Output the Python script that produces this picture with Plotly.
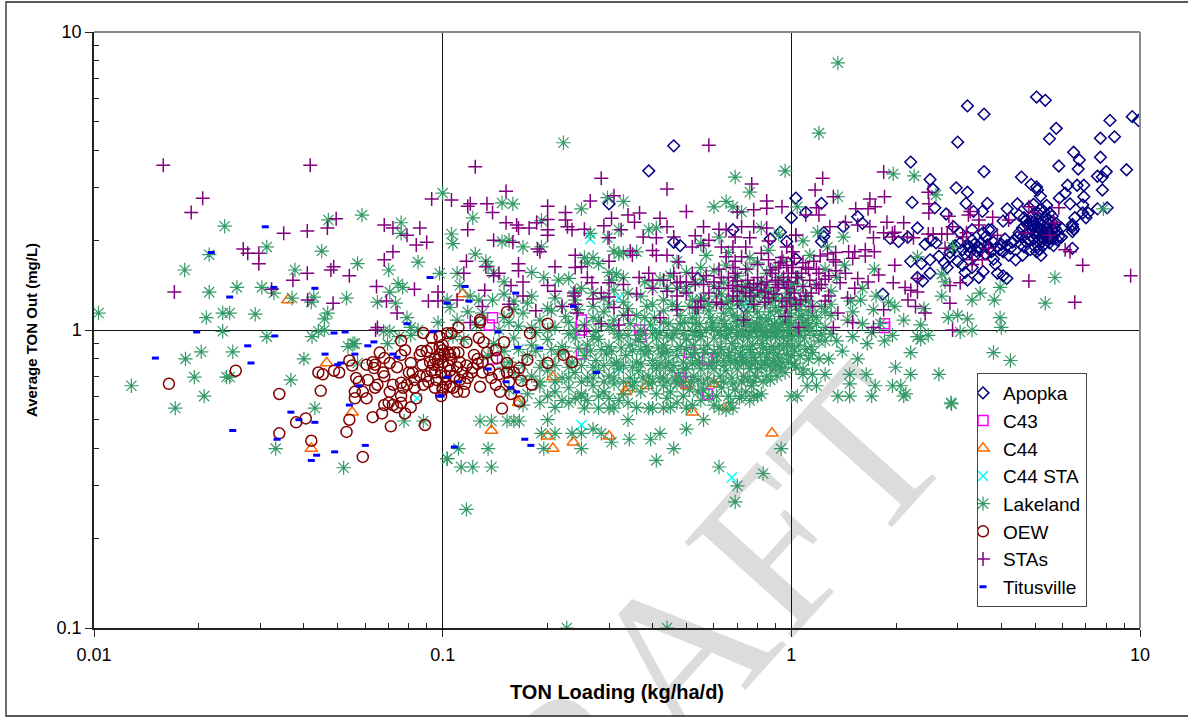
import plotly.graph_objects as go

apopka = [(9.5,5.2),(9.9,5.05),(8.2,5.05),(8.45,4.45),(7.7,4.4),(5.75,4.75),(5.5,4.38),(5.05,6.05),(5.35,5.9),(3.2,5.65),(3.57,5.3),(3,4.27),
(6.45,3.95),(7.7,3.8),(6.7,3.72),(5.85,3.55),(6.65,3.47),(9.15,3.45),(8,3.4),(2.2,3.66),(3.57,3.4),(4.57,3.26),(7.55,3.28),(7.8,3.26),(6.2,3.06),
(6.6,3.06),(6.9,3.06),(7.8,2.95),(4.87,3.08),(5.05,3.02),(2.5,3.2),(2.97,3),(3.2,2.9),(2.55,2.97),(2.22,2.68),(3.17,2.66),(3.65,2.66),(1.03,2.77),
(1.22,2.66),(1.1,2.48),(2.58,2.57),(2.78,2.45),(3.33,2.5),(3.53,2.5),(4.16,2.55),(4.45,2.65),(5.18,2.81),(5.08,2.95),(5.87,2.77),(6.1,2.88),(6.9,2.8),
(6.3,2.65),(6.85,2.63),(7.55,2.55),(8.05,2.57),(6.85,2.47),(7.1,2.47),(7,2.38),(6.5,2.38),(1.55,2.4),(1.41,2.22),(2.3,2.2),(2.92,2.22),(3.3,2.17),(3.68,2.17),
(4.05,2.32),(4.25,2.38),(4.5,2.43),(4.8,2.58),(4.95,2.64),(5.4,2.62),(5.5,2.47),(5.2,2.55),(4.9,2.41),(5.05,2.36),(5.35,2.38),(5.6,2.41),(4.85,2.32),
(4.65,2.38),(4.75,2.26),(4.95,2.24),(5.2,2.28),(5.45,2.28),(5.75,2.28),(6.4,2.26),(6.4,2.22),(6.45,2.18),(6.4,2.14),(1.24,2.12),(1.24,2.06),(1.92,2.03),
(2.03,1.98),(2.16,2.05),(2.52,2),(2.6,1.96),(2.42,1.94),(3.05,2.12),(3.3,2),(3.55,2.12),(3.75,2.17),(3.6,2.05),(4,1.94),(4.3,1.97),(4.45,2.05),(4.55,1.94),
(4.65,1.9),(4.85,1.86),(4.95,2.02),(5.1,1.98),(5.2,2.05),(5.35,2.1),(5.55,2.03),(5.7,2.12),(5.6,2.03),(6.4,1.88),(5.15,1.86),(5.2,1.78),(5.05,1.83),
(2.85,1.82),(3.1,1.86),(3.25,1.82),(3.5,1.87),(3.75,1.83),(3.95,1.86),(4.05,1.83),(4.6,1.78),(4.2,1.78),(2.65,1.77),(2.5,1.72),(2.2,1.7),(1.03,1.73),
(2.85,1.76),(3,1.7),(3.1,1.65),(2.36,1.67),(2.5,1.55),(2.3,1.5),(3.15,1.56),(3.2,1.47),(3.45,1.5),(3.55,1.57),(3.85,1.66),(3.9,1.55),(4.05,1.52),(4.15,1.49),
(2.38,1.46),(1.83,1.32),(3.35,1.77),(3.3,1.62),(4.4,1.72),(3.8,1.73),(2.75,1.68),(2.8,1.62),(4.75,2.12),(4.9,2.17),(5.05,2.13),(5.25,2.17),(5.45,2.15),
(5.6,2.18),(5.8,2.14),(5.95,2.2),(4.8,2.02),(5,1.9),(5.3,1.93),(5.5,1.96),(5.65,1.92),(5.8,2),(5.95,2.05),(3.35,1.94),(3.5,1.96),(3.65,1.93),(3.8,1.97),
(2.95,1.92),(3.05,1.96),(3.2,1.93),(4.1,2.02),(4.25,1.88),(5.1,2.1),(5.3,2.02),(5.55,2.08),(0.39,3.42),(0.46,4.15),(0.3,2.65),(0.46,1.97),(0.48,1.92),(0.68,2.17),
(0.87,2.02),(0.93,2.13),(0.97,1.98),(1,2.38),(0.54,1.49),(0.73,1.2),(0.98,1.42),(0.8,1.35),(1.6,2.28),(1.22,1.98),
(3.15,1.8),(3.4,1.84),(3.6,1.8),(3.25,1.9),(3.45,1.9),(3.7,1.88),(3.9,1.9),(4.15,1.92),(2.9,1.88),(4.35,2.0),(4.5,2.12),(4.6,2.2),(4.7,2.32),(4.85,2.25),(5.1,2.22),(5.3,2.12),(5.4,2.2),(5.5,2.12),(5.15,2.18),(5.7,2.2),(5.25,2.32),(5.45,2.36),(4.95,2.3),(5.1,2.46),(5.3,2.5),(5.6,2.3),(5.85,2.06),(5.25,1.98),(5.45,2.03),(5.05,2.06),(4.7,1.98),(4.6,2.05)]

c43 = [(0.139,1.1),(0.136,1.04),(0.25,1.08),(0.25,1.0),(0.367,1.0),(1.85,1.02),(1.85,1.05),(0.48,0.69),(0.5,0.67),(0.575,0.61),(0.139,0.8),(0.25,0.83),(0.51,0.84),(0.575,0.8),(0.37,0.95)]

c44 = [(0.036,1.26),(0.0465,0.775),(0.055,0.53),(0.042,0.4),(0.114,1.32),(0.207,0.695),(0.165,0.57),(0.138,0.46),(0.2,0.44),(0.207,0.4),(0.237,0.42),(0.3,0.44),
(0.52,0.53),(0.88,0.45),(0.34,0.64),(0.385,0.65),(0.5,0.65),(0.6,0.66),(0.655,0.55),(0.335,0.62)]

c44_sta = [(0.265,2.02),(0.32,1.28),(0.25,0.48),(0.32,0.745),(0.675,0.32),(0.41,1.0),(0.0845,0.59),(0.745,1.23),(0.72,0.8)]

lakeland = [(0.0103,1.14),(0.0128,0.65),(0.0182,1.59),(0.0237,2.23),(0.0214,1.79),(0.0214,1.34),(0.0257,1.39),(0.0303,1.39),(0.0313,1.9),(0.0328,1.33),(0.021,1.1),(0.0234,1.14),(0.0245,1.14),
(0.029,1.13),(0.0234,0.99),(0.0313,0.95),(0.037,1.28),(0.0377,1.59),(0.0427,1.29),(0.042,1.24),(0.045,1.84),(0.047,2.34),(0.0587,2.43),(0.057,1.67),(0.053,1.28),(0.0468,1.14),(0.0458,1.09),
(0.044,0.99),(0.0458,1.0),(0.0422,0.95),(0.07,1.59),(0.085,1.69),(0.098,1.55),(0.1,2.88),(0.076,2.29),(0.076,2.11),(0.0745,1.43),(0.0768,1.39),(0.0705,1.34),(0.065,1.24),(0.0733,1.23),
(0.079,1.1),(0.081,1.02),(0.097,1.06),(0.103,1.26),(0.0677,0.99),(0.0705,0.99),(0.075,0.95),(0.081,0.96),(0.085,1.0),(0.0553,0.9),(0.0535,0.88),(0.0695,0.9),(0.0203,0.845),(0.025,0.845),
(0.0183,0.8),(0.04,0.8),(0.0194,0.695),(0.024,0.695),(0.0245,0.695),(0.0367,0.68),(0.0207,0.6),(0.0171,0.547),(0.043,0.547),(0.0332,0.4),(0.052,0.345),(0.0775,0.495),(0.088,0.495),
(0.056,0.9),(0.057,0.775),(0.103,0.37),(0.128,0.495),(0.138,0.495),(0.153,0.495),(0.16,0.495),(0.166,0.495),(0.2,0.5),(0.34,0.5),(0.56,0.5),(0.5,0.465),(0.27,0.465),(0.192,0.45),(0.21,0.45),
(0.235,0.45),(0.25,0.45),(0.285,0.45),(0.42,0.45),(0.395,0.43),(0.343,0.43),(0.305,0.42),(0.111,0.4),(0.135,0.4),(0.195,0.4),(0.25,0.4),(0.46,0.4),(0.935,0.4),(0.103,0.37),(0.113,0.347),
(0.122,0.347),(0.138,0.347),(0.41,0.365),(0.62,0.347),(0.83,0.33),(0.7,0.3),(0.69,0.265),(0.117,0.25),(0.227,0.1),(0.44,0.1),(0.255,0.547),(0.28,0.547),(0.3,0.547),(0.31,0.547),(0.39,0.547),
(0.4,0.547),(0.43,0.547),(0.5,0.547),(0.62,0.547),(0.65,0.54),(0.68,0.547),(0.72,0.6),(0.78,0.6),(0.8,0.6),(1.04,0.6),(0.93,0.75),(0.222,4.25),(0.69,3.26),(0.96,3.42),(0.76,2.9),(0.297,2.78),
(0.33,2.7),(0.148,2.67),(0.159,2.65),(0.122,2.38),(0.25,2.55),(0.192,2.33),(0.6,2.59),(0.65,2.7),(0.68,2.59),(0.72,2.49),(0.106,2.1),(0.107,1.95),(0.148,1.98),(0.155,2),(0.17,1.9),(0.192,1.9),
(0.124,1.8),(0.133,1.7),(0.135,1.64),(0.32,2.17),(0.265,2.11),(0.297,2.04),(0.36,1.83),(0.31,1.84),(0.32,1.8),(0.33,1.81),(0.39,2.17),(0.41,2.2),(0.255,1.75),(0.27,1.75),(0.26,1.68),(0.28,1.67),
(0.11,1.55),(0.112,1.41),(0.14,1.55),(0.18,1.56),(0.195,1.5),(0.215,1.47),(0.23,1.49),(0.3,1.56),(0.315,1.54),(0.33,1.5),(0.305,1.47),(0.25,1.38),(0.27,1.33),(0.34,1.33),(0.31,1.36),(0.127,1.26),
(0.139,1.26),(0.16,1.25),(0.175,1.23),(0.16,1.17),(0.105,1.19),(0.12,1.3),(1.36,7.88),(1.2,4.58),(1.96,3.34),(2.25,3.29),(2.6,2.84),(1.36,2.8),(1.04,2.59),(7.85,2.55),(2.9,1.9),(2.3,1.76),(1.19,2.13),
(1.08,1.99),(1.41,2.05),(1.13,1.78),(1.27,1.9),(3.97,1.39),(5.7,1.5),(5.35,1.23),(2.7,1.54),(2.76,1.45),(2.7,1.3),(3.48,1.33),(3.3,1.26),(3.82,1.26),(2.4,1.18),(2.82,1.1),(3,1.12),(3.2,1.09),(3.97,1.1),
(4,1.02),(2.35,1.04),(2.1,1.08),(1.98,1.2),(1.9,1.24),(1.73,1.6),(1.58,1.26),(1.72,1.17),(3.05,0.985),(3.3,1),(2.47,0.96),(2.3,0.95),(3.8,0.84),(4.25,0.79),(2.88,0.565),(2.1,0.6),(2.13,0.61),(2.87,0.57),
(1.99,0.75),(2.35,0.93),(2.2,0.84),(1.36,0.6),(1.47,0.6),(1.7,0.6),(1.11,0.65),(1.18,0.65),(1.47,0.66),(1.74,0.65),(1.95,0.65),(2.06,0.65),(1.08,0.71),(1.15,0.71),(1.25,0.71),(1.47,0.71),(1.64,0.71),
(2.2,0.71),(2.65,0.71),(1.0,0.6),(1.03,0.75),(1.28,0.8),(1.4,0.85),(1.55,0.8),(1.65,0.9),(1.85,0.92),(1.95,0.96),(1.5,0.95),(1.7,0.98),(1.35,0.92),(1.8,1.05),(1.6,1.05),(1.45,1.08),(1.25,1.02),(1.3,1.12),
(1.5,1.15),(1.15,1.2),(1.1,1.3),(1.3,1.35),(1.18,1.42),(1.05,1.5),(1.35,1.5),(1.6,1.38),(1.25,1.6),(1.42,1.65),(1.48,1.25),(1.75,1.3),
(0.15,1.32),(0.18,1.3),(0.21,1.28),(0.24,1.26),(0.29,1.28),(0.33,1.24),(0.37,1.3),(0.4,1.38),(0.43,1.26),(0.47,1.38),(0.5,1.34),(0.53,1.44),(0.56,1.28),(0.6,1.4),(0.63,1.32),(0.66,1.25),(0.7,1.36),(0.74,1.42),(0.78,1.29),(0.82,1.44),(0.86,1.35),(0.9,1.27),(0.94,1.46),(0.98,1.33),
(0.13,1.14),(0.15,1.1),(0.17,1.14),(0.19,1.08),(0.205,1.16),(0.225,1.11),(0.245,1.17),(0.27,1.1),(0.29,1.15),(0.31,1.08),(0.34,1.18),(0.36,1.12),(0.385,1.2),(0.405,1.1),(0.43,1.16),(0.455,1.22),(0.48,1.12),(0.51,1.2),(0.535,1.14),(0.56,1.2),(0.585,1.1),(0.61,1.22),(0.64,1.14),(0.67,1.18),(0.7,1.1),(0.72,1.22),(0.75,1.15),(0.78,1.2),(0.81,1.1),(0.84,1.22),(0.87,1.15),(0.9,1.19),(0.93,1.11),(0.96,1.2),(0.99,1.14),(1.03,1.23),(1.07,1.12),(1.12,1.16),(1.18,1.1),(1.22,1.2),
(0.125,1.04),(0.145,1.0),(0.165,1.03),(0.185,0.98),(0.21,1.02),(0.23,0.97),(0.255,1.04),(0.275,0.99),(0.3,1.03),(0.32,0.97),(0.345,1.05),(0.37,1.0),(0.395,1.04),(0.42,0.98),(0.445,1.05),(0.47,1.0),(0.495,1.06),(0.52,0.99),(0.545,1.05),(0.57,1.0),(0.595,1.06),(0.62,0.99),(0.645,1.05),(0.67,1.0),(0.695,1.07),(0.72,1.0),(0.745,1.06),(0.77,0.99),(0.795,1.05),(0.82,1.0),(0.845,1.07),(0.87,0.99),(0.895,1.05),(0.92,1.0),(0.945,1.06),(0.97,0.99),(1.0,1.05),(1.04,1.0),(1.08,1.06),(1.13,0.99),(1.18,1.05),(1.22,0.97),
(0.115,0.93),(0.14,0.9),(0.16,0.94),(0.18,0.89),(0.2,0.93),(0.22,0.88),(0.24,0.94),(0.26,0.89),(0.28,0.93),(0.3,0.88),(0.32,0.94),(0.345,0.89),(0.365,0.93),(0.385,0.88),(0.41,0.94),(0.43,0.89),(0.455,0.94),(0.48,0.88),(0.5,0.93),(0.525,0.89),(0.55,0.95),(0.575,0.89),(0.6,0.94),(0.625,0.88),(0.65,0.94),(0.675,0.9),(0.7,0.95),(0.725,0.88),(0.75,0.94),(0.775,0.89),(0.8,0.95),(0.825,0.9),(0.85,0.94),(0.875,0.88),(0.9,0.95),(0.925,0.89),(0.95,0.94),(0.975,0.9),(1.01,0.95),(1.05,0.89),(1.09,0.94),(1.14,0.88),(1.2,0.92),
(0.135,0.82),(0.155,0.78),(0.175,0.82),(0.195,0.79),(0.215,0.83),(0.235,0.78),(0.255,0.82),(0.275,0.79),(0.295,0.83),(0.315,0.78),(0.335,0.82),(0.36,0.78),(0.38,0.83),(0.4,0.79),(0.425,0.83),(0.445,0.78),(0.47,0.82),(0.49,0.78),(0.515,0.83),(0.54,0.79),(0.565,0.84),(0.59,0.78),(0.615,0.83),(0.64,0.79),(0.665,0.84),(0.69,0.79),(0.715,0.83),(0.74,0.78),(0.765,0.84),(0.79,0.79),(0.815,0.83),(0.84,0.78),(0.865,0.84),(0.89,0.79),(0.915,0.83),(0.94,0.78),(0.97,0.83),(1.0,0.88),(1.06,0.82),(1.12,0.8),
(0.16,0.72),(0.18,0.7),(0.2,0.73),(0.22,0.69),(0.24,0.72),(0.26,0.69),(0.28,0.73),(0.3,0.7),(0.32,0.74),(0.345,0.69),(0.365,0.73),(0.39,0.7),(0.41,0.74),(0.43,0.69),(0.455,0.73),(0.475,0.7),(0.5,0.74),(0.525,0.7),(0.55,0.74),(0.575,0.69),(0.6,0.74),(0.625,0.7),(0.65,0.73),(0.675,0.69),(0.7,0.74),(0.73,0.7),(0.76,0.74),(0.79,0.7),(0.82,0.75),(0.85,0.7),(0.88,0.73),(0.91,0.7),(0.96,0.72),
(0.155,0.63),(0.175,0.61),(0.19,0.65),(0.21,0.62),(0.23,0.64),(0.25,0.61),(0.27,0.65),(0.29,0.62),(0.31,0.66),(0.33,0.61),(0.35,0.65),(0.37,0.62),(0.39,0.66),(0.41,0.61),(0.43,0.65),(0.45,0.62),(0.47,0.66),(0.54,0.62),(0.58,0.6),(0.63,0.64),(0.66,0.6),(0.69,0.63),(0.74,0.62),(0.77,0.65),(0.82,0.61),
(0.17,0.56),(0.19,0.57),(0.21,0.55),(0.23,0.57),(0.25,0.6),(0.34,0.57),(0.36,0.55),(0.45,0.55),(0.47,0.57),(0.52,0.56),(0.55,0.58),(0.6,0.56),(0.67,0.57),
(0.107,0.95),(0.11,1.08),(0.118,1.15),(0.42,1.48),(0.45,1.52),(0.5,1.56),(0.55,1.62),(0.6,1.58),(0.65,1.65),(0.7,1.52),(0.75,1.6),(0.8,1.68),(0.85,1.55),(0.9,1.62),(0.95,1.7),(0.47,1.7),(0.57,1.78),(0.66,1.82),(0.76,1.75),(0.86,1.85),(0.55,1.95),(0.62,2.05),(0.92,2.1),(0.82,2.2),(0.38,1.45),(0.2,1.18),(0.24,1.35),(0.15,1.45),
(0.52,1.1),(0.58,1.16),(0.63,1.08),(0.68,1.12),(0.74,1.08),(0.8,1.15),(0.86,1.09),(0.92,1.16),(0.98,1.08),(1.05,1.17),(1.11,1.08),(0.55,1.27),(0.61,1.3),(0.68,1.28),(0.73,1.3),(0.81,1.33),(0.88,1.25),(0.96,1.28),(1.02,1.36),(1.07,1.24),(0.46,0.97),(0.53,0.96),(0.6,1.0),(0.66,0.97),(0.73,0.96),(0.79,1.02),(0.85,0.96),(0.91,0.97),(0.98,0.96),(1.06,0.96),(1.12,1.03),
(0.44,0.85),(0.5,0.86),(0.56,0.86),(0.63,0.86),(0.69,0.87),(0.76,0.86),(0.83,0.87),(0.89,0.86),(0.95,0.87),(1.02,0.85),(1.1,0.86),(0.46,0.76),(0.52,0.77),(0.58,0.76),(0.64,0.76),(0.7,0.77),(0.77,0.77),(0.84,0.77),(0.9,0.76),(0.98,0.78),
(0.2,0.6),(0.22,0.58),(0.24,0.59),(0.26,0.58),(0.28,0.6),(0.3,0.59),(0.32,0.58),(0.44,0.59),(0.49,0.6),(0.51,0.63),(0.56,0.63),(0.61,0.6),(0.71,0.59),(0.76,0.58),
(0.17,0.68),(0.19,0.67),(0.21,0.67),(0.23,0.69),(0.25,0.67),(0.27,0.69),(0.29,0.67),(0.31,0.69),(0.33,0.67),(0.355,0.67),(0.375,0.69),(0.4,0.67),(0.42,0.69),(0.44,0.67),(0.465,0.68),(0.49,0.67),(0.515,0.67),(0.54,0.68),(0.56,0.66),(0.6,0.67),(0.64,0.67),(0.68,0.66),(0.72,0.67),(0.75,0.68),(0.78,0.67),(0.83,0.67),(0.87,0.68),
(0.15,0.75),(0.17,0.76),(0.19,0.75),(0.21,0.76),(0.23,0.75),(0.25,0.76),(0.27,0.75),(0.29,0.76),(0.31,0.77),(0.33,0.76),(0.35,0.75),(0.37,0.77),(0.4,0.76),(0.42,0.77),(0.435,0.75),(0.49,0.74),(0.545,0.78),(0.61,0.78),(0.67,0.78),(0.73,0.78),(0.8,0.74),(0.87,0.76),(0.94,0.74),(1.02,0.77),(1.08,0.74),
(0.15,0.85),(0.165,0.86),(0.185,0.85),(0.205,0.86),(0.225,0.85),(0.245,0.87),(0.265,0.85),(0.285,0.86),(0.305,0.85),(0.325,0.87),(0.35,0.85),(0.37,0.86),(0.39,0.85),(0.415,0.87),(0.435,0.84),(0.47,0.86),(0.53,0.84),(0.6,0.84),(0.66,0.82),(0.72,0.81),(0.78,0.81),(0.85,0.81),(0.92,0.8),(1.0,0.82),(1.15,0.84),(1.2,0.8),
(0.2,1.0),(0.24,1.0),(0.27,0.95),(0.31,1.0),(0.34,0.96),(0.37,0.96),(0.4,0.97),(0.44,0.96),(0.49,0.97),(0.55,0.98),(0.63,0.96),(0.7,0.98),(0.76,0.98),(0.83,0.98),(0.9,0.98),(1.03,1.02),(1.1,1.02),(1.16,0.96),(1.25,0.92),(1.3,0.97),
(0.43,1.06),(0.48,1.05),(0.53,1.05),(0.59,1.02),(0.65,1.02),(0.7,1.03),(0.76,1.04),(0.82,1.04),(0.88,1.03),(0.93,1.04),(0.99,1.02),(1.05,1.1),(1.15,1.12),(1.25,1.15),(1.3,1.22),(0.47,1.2),(0.52,1.26),(0.58,1.22),(0.65,1.23),(0.71,1.25),(0.77,1.25),(0.84,1.29),(0.9,1.32),(0.99,1.24),(1.12,1.25),
(0.5,1.4),(0.56,1.48),(0.64,1.44),(0.69,1.46),(0.76,1.38),(0.85,1.42),(0.92,1.5),(1.0,1.42),(1.08,1.4),(0.44,1.38),(0.3,1.22),(0.27,1.2),(0.22,1.2),(0.4,1.22),(0.38,1.1),(0.33,1.12),(0.28,1.07),(0.23,1.06),(0.18,1.02),(0.155,1.06)]

oew = [(0.0255,0.73),(0.0164,0.66),(0.034,0.61),(0.034,0.45),(0.038,0.49),(0.0405,0.505),(0.042,0.425),(0.0447,0.625),(0.044,0.72),(0.0453,0.71),(0.0488,0.73),(0.0505,0.72),(0.054,0.79),(0.055,0.76),
(0.0565,0.69),(0.0575,0.67),(0.054,0.5),(0.053,0.455),(0.059,0.375),(0.056,0.62),(0.059,0.62),(0.056,0.59),(0.0605,0.59),(0.061,0.68),(0.064,0.64),(0.065,0.655),(0.063,0.51),(0.067,0.525),(0.068,0.56),
(0.07,0.57),(0.072,0.56),(0.074,0.55),(0.078,0.525),(0.081,0.55),(0.071,0.475),(0.089,0.48),(0.076,0.57),(0.076,0.6),(0.084,0.59),(0.072,0.655),(0.0705,0.62),(0.076,0.665),(0.079,0.655),(0.077,0.64),
(0.083,0.64),(0.088,0.655),(0.095,0.64),(0.1,0.63),(0.0605,0.765),(0.063,0.78),(0.066,0.84),(0.064,0.765),(0.068,0.805),(0.0705,0.775),(0.074,0.75),(0.0675,0.72),(0.068,0.7),(0.0635,0.745),(0.076,0.825),
(0.078,0.855),(0.086,0.825),(0.087,0.85),(0.0875,0.765),(0.081,0.775),(0.082,0.72),(0.092,0.78),(0.094,0.765),(0.095,0.72),(0.097,0.795),(0.1,0.855),(0.098,0.875),(0.104,0.84),(0.088,0.977),(0.093,0.94),
(0.098,0.95),(0.103,0.975),(0.076,0.92),(0.111,1.02),(0.106,0.975),(0.128,1.06),(0.178,0.975),(0.2,1.05),(0.153,1.15),(0.128,1.08),(0.117,0.91),(0.127,0.94),(0.131,0.91),(0.15,0.91),(0.142,0.855),(0.123,0.825),
(0.134,0.84),(0.126,0.8),(0.13,0.78),(0.143,0.805),(0.153,0.775),(0.175,0.795),(0.2,0.775),(0.222,0.825),(0.235,0.78),(0.108,0.84),(0.111,0.84),(0.1,0.89),(0.101,0.83),(0.105,0.825),(0.098,0.83),(0.104,0.76),
(0.11,0.75),(0.122,0.745),(0.126,0.77),(0.13,0.72),(0.136,0.735),(0.138,0.69),(0.145,0.71),(0.153,0.72),(0.16,0.72),(0.166,0.745),(0.168,0.675),(0.18,0.655),(0.142,0.655),(0.155,0.67),(0.146,0.62),(0.157,0.61),
(0.128,0.645),(0.115,0.62),(0.11,0.62),(0.107,0.64),(0.118,0.69),(0.121,0.72),(0.114,0.72),(0.105,0.645),(0.1,0.64),(0.099,0.6),(0.166,0.575),(0.148,0.545),(0.09,0.7),(0.093,0.73),(0.096,0.68),(0.099,0.72),
(0.102,0.7),(0.105,0.73),(0.108,0.7),(0.112,0.68),(0.116,0.66),(0.102,0.66),(0.097,0.76),(0.091,0.67),(0.086,0.7),(0.083,0.68),(0.08,0.72),(0.112,0.78),(0.117,0.76),(0.106,0.8),(0.1,0.78),(0.095,0.8),(0.09,0.85),(0.093,0.87)]

stas = [(0.0158,3.57),(0.0417,3.57),(0.0205,2.77),(0.019,2.48),(0.035,2.11),(0.0409,2.15),(0.0467,2.2),(0.0495,2.36),(0.0268,1.87),(0.0276,1.81),(0.0297,1.81),(0.0297,1.67),(0.0409,1.55),(0.0372,1.47),(0.0323,1.37),
(0.017,1.34),(0.041,1.26),(0.0485,1.23),(0.0487,1.63),(0.0478,1.59),(0.054,1.52),(0.0646,1.4),(0.069,1.25),(0.074,1.14),(0.0642,1.0),(0.068,1.72),(0.072,1.83),(0.068,2.25),(0.072,2.2),(0.079,2.08),(0.086,2.2),(0.084,1.93),
(0.09,1.97),(0.093,2.75),(0.083,1.37),(0.091,1.25),(0.097,1.25),(0.097,1.34),(0.124,3.53),(0.106,2.73),(0.118,2.6),(0.12,2.65),(0.134,2.65),(0.152,2.92),(0.139,2.48),(0.118,2.17),(0.152,2.29),(0.163,2.25),(0.165,2.2),(0.177,2.2),
(0.186,2.29),(0.2,2.6),(0.2,2.17),(0.2,2.35),(0.2,2.08),(0.14,2),(0.159,1.97),(0.187,1.87),(0.19,1.83),(0.117,1.7),(0.133,1.63),(0.14,1.52),(0.165,1.67),(0.21,1.63),(0.24,1.62),(0.25,1.63),(0.26,1.5),(0.268,1.44),(0.2,1.41),(0.157,1.41),
(0.132,1.36),(0.11,1.26),(0.238,1.33),(0.238,1.3),(0.285,1.33),(0.3,1.29),(0.3,1.44),(0.22,1.2),(0.185,1.16),(0.243,1.14),(0.31,1.19),(0.34,1.12),(0.285,1.05),(0.32,1.04),(0.255,0.99),(0.42,1.1),(0.47,1.17),(0.53,1.19),(0.73,1.08),(0.96,1.11),
(0.58,4.17),(0.285,3.23),(0.44,2.97),(0.77,3.09),(0.31,2.82),(0.265,2.71),(0.5,2.5),(0.85,2.71),(0.85,2.56),(0.94,2.59),(0.78,2.53),(0.7,2.49),(0.225,2.48),(0.225,2.34),(0.228,2.22),(0.235,2.17),(0.255,2.18),(0.305,2.37),(0.29,2.24),(0.3,2.04),
(0.34,2.43),(0.367,2.47),(0.355,2.3),(0.325,2.17),(0.42,2.37),(0.44,2.22),(0.376,2.05),(0.41,2.04),(0.4,1.85),(0.41,1.78),(0.44,1.78),(0.475,1.69),(0.52,1.9),(0.56,1.92),(0.53,2.07),(0.56,2.22),(0.62,2.18),(0.65,2.17),(0.72,2.22),(0.69,2.05),
(0.78,2.22),(0.76,2.04),(0.86,1.99),(0.97,1.9),(1.03,2.08),(0.68,1.9),(0.65,1.76),(0.72,1.76),(0.69,1.7),(0.82,1.81),(0.345,1.84),(0.366,1.5),(0.39,1.55),(0.4,1.47),(0.43,1.47),(0.46,1.55),(0.48,1.45),(0.5,1.45),(0.4,1.38),(0.47,1.3),(0.5,1.33),
(0.52,1.55),(0.6,1.45),(0.63,1.5),(0.66,1.5),(0.69,1.55),(0.68,1.41),(0.76,1.39),(0.84,1.34),(0.91,1.39),(0.97,1.38),(0.87,1.59),(0.93,1.68),(1.03,1.5),(0.58,1.33),(0.61,1.24),(0.68,1.3),(0.76,1.3),(0.84,1.24),(0.54,1.19),(0.72,1.4),(0.75,1.47),
(0.8,1.5),(0.85,1.45),(0.9,1.47),(0.95,1.5),(0.88,1.55),(0.92,1.62),(0.98,1.45),(0.82,1.42),(0.7,1.35),(0.66,1.38),(0.62,1.38),(0.56,1.42),(1.84,3.39),(1.23,3.23),(1.17,2.95),(2.47,2.9),(2.48,2.65),(1.32,2.8),(1.85,2.8),(1.68,2.75),(1.74,2.59),(1.18,2.57),
(1.53,2.55),(1.66,2.55),(1.1,2.43),(1.2,2.43),(2.48,2.47),(2.83,2.41),(3.26,2.5),(3.22,2.43),(3.78,2.39),(4.95,2.48),(4.8,2.59),(5.85,2.57),(4.2,2.34),(5.67,2.29),(4.7,2.12),(5.5,2.08),(3.9,2.08),(3.45,2.34),(3.45,2.25),(2.9,2.22),(3.1,2.05),(3.18,2.12),
(2.76,1.88),(3.68,1.88),(3.3,1.72),(3.53,1.72),(3.3,1.66),(2.47,2.1),(2.55,2.1),(2.7,2.1),(2.8,2.1),(1.88,2.3),(2.1,2.29),(1.84,2.12),(1.95,2.11),(1.98,2.13),(1.95,2.05),(1.68,2.22),(2.15,2.05),(2.24,2.04),(1.72,2.04),(1.29,2.22),(1.43,2.3),(1.55,2.25),(1.03,2.08),
(1.52,1.83),(1.46,1.83),(1.5,1.74),(1.63,1.86),(1.73,1.83),(1.63,1.77),(1.01,1.83),(1.21,1.77),(1.27,1.8),(1.34,1.82),(1.32,1.72),(1.34,1.69),(1.98,1.65),(1.55,1.49),(1.66,1.45),(1.78,1.53),(1.96,1.44),(2.12,1.39),(2.2,1.36),(2.16,1.26),(2.3,1.34),(2.3,1.49),
(2.85,1.41),(3.05,1.44),(2.85,1.23),(2.27,1.2),(2.42,1.14),(1.84,1.17),(1.72,1.02),(2.9,1.0),(4.8,1.46),(6.1,1.86),(6.3,1.83),(6.85,1.65),(6.5,1.24),(9.4,1.52),(1.5,1.06),(1.32,1.02),(1.05,1.02),(1.36,1.14),(1.45,1.28),(1.28,1.3),(1.1,1.3),(1.03,1.22),(1.2,1.38),(1.25,1.25),
(1.52,1.38),(1.43,1.55),(1.13,1.47),(1.04,1.5),(1.12,1.6),(1.34,1.58),(1.2,1.55),(1.25,1.48),(1.38,1.44),(1.18,1.42),(1.08,1.4),(1.02,1.33),(0.99,1.28),(0.97,1.2),(1.15,1.2),(1.1,1.62),(1.07,1.55),(1.01,1.62),(1.16,1.7),(0.98,1.55),(0.97,1.65),(0.92,1.42),(0.89,1.32),(0.8,1.36),
(0.78,1.43),(0.74,1.33),(0.7,1.46),(0.065,1.02),(0.145,1.55),(0.165,1.58),(0.115,1.55),(0.17,1.45),(0.21,1.35),(0.155,1.22),(0.13,1.2),(0.12,1.06),(0.63,1.9),(0.85,2.2),(0.74,1.9),(0.46,2.05),(0.58,2.0),
(0.55,1.25),(0.63,1.22),(0.7,1.25),(0.78,1.22),(0.86,1.28),(0.94,1.25),(1.06,1.26),(1.14,1.33),(1.22,1.42),(1.28,1.52),(1.18,1.6),(1.08,1.68),(1.02,1.74),(0.94,1.75),(0.86,1.72),(0.8,1.66),(0.74,1.6),(0.68,1.62),(0.62,1.6),(0.57,1.52),(0.53,1.42),(0.47,1.44),(0.44,1.35),(0.36,1.32),(0.33,1.42),(0.27,1.27),(0.24,1.22),(0.35,1.78),(0.3,1.7),(0.24,1.78),(0.17,1.3)]

titusville = [(0.031,2.22),(0.0217,1.82),(0.0328,1.39),(0.0245,1.29),(0.043,1.38),(0.0197,0.985),(0.033,0.955),(0.0276,0.885),(0.0488,0.977),(0.0525,0.985),(0.0635,0.912),(0.061,0.885),(0.079,1.05),(0.092,1.5),(0.094,0.99),(0.103,1.23),
(0.015,0.805),(0.0282,0.775),(0.046,0.83),(0.056,0.83),(0.05,0.765),(0.051,0.775),(0.072,0.83),(0.074,0.81),(0.103,0.695),(0.098,0.6),(0.0575,0.65),(0.054,0.56),(0.0367,0.53),(0.0387,0.5),(0.043,0.49),(0.025,0.46),(0.0335,0.43),(0.06,0.41),
(0.049,0.39),(0.0435,0.38),(0.042,0.365),(0.116,1.4),(0.119,1.25),(0.162,1.33),(0.237,1.2),(0.144,0.985),(0.164,0.875),(0.19,0.87),(0.135,0.74),(0.111,0.67),(0.152,0.67),(0.157,0.64),(0.163,0.62),(0.276,0.72),(0.108,0.405),(0.172,0.43),(0.179,0.41),(0.099,0.6)]

series = [
    ("Apopka", apopka, "diamond-open", 9, "#000080", 1.5),
    ("C43", c43, "square-open", 10, "#FF00FF", 1.5),
    ("C44", c44, "triangle-up-open", 11, "#FF6600", 1.5),
    ("C44 STA", c44_sta, "x-thin-open", 10, "#00FFFF", 1.5),
    ("Lakeland", lakeland, "asterisk-open", 12, "#339966", 1.2),
    ("OEW", oew, "circle-open", 11, "#800000", 1.5),
    ("STAs", stas, "cross-thin-open", 10, "#800080", 1.5),
    ("Titusville", titusville, "line-ew-open", 5, "#0000FF", 3),
]

x_tick_vals = [0.01, 0.1, 1, 10]
x_tick_text = ["0.01", "0.1", "1", "10"]
y_tick_vals = [0.1, 1, 10]
y_tick_text = ["0.1", "1", "10"]
minor_x = [m * d for d in (0.01, 0.1, 1) for m in range(2, 10)]
minor_y = [m * d for d in (0.1, 1) for m in range(2, 10)]

W, H = 1188, 717
L, R, T, B = 94, 1140, 32, 628
def px(v): return (v - L) / (R - L)
def py(v): return (B - v) / (B - T)

fig = go.Figure()
for name, pts, sym, size, col, lw in series:
    fig.add_trace(go.Scatter(
        x=[p[0] for p in pts], y=[p[1] for p in pts], mode="markers", name=name, legendgroup=name,
        marker=dict(symbol=sym, size=size, color=col, line=dict(color=col, width=lw)),
    ))

axis_font = dict(family="Liberation Sans, Arial, sans-serif", size=18, color="black")
fig.update_xaxes(type="log", range=[-2, 1], tickmode="array", tickvals=x_tick_vals, ticktext=x_tick_text,
    ticks="outside", ticklen=7, tickcolor="#222", tickwidth=1, showline=True, linecolor="#222", linewidth=1.5,
    showgrid=True, gridcolor="#111", gridwidth=1, zeroline=False, tickfont=axis_font, ticklabelstandoff=3,
    minor=dict(tickmode="array", tickvals=minor_x, ticks="inside", ticklen=5, tickcolor="#222", tickwidth=1, showgrid=False),
    title=dict(text="<b>TON Loading (kg/ha/d)</b>", font=dict(family="Liberation Sans, Arial, sans-serif", size=20, color="black"), standoff=21))
fig.update_yaxes(type="log", range=[-1, 1], tickmode="array", tickvals=y_tick_vals, ticktext=y_tick_text,
    ticks="outside", ticklen=7, tickcolor="#222", tickwidth=1, showline=True, linecolor="#222", linewidth=1.5,
    showgrid=True, gridcolor="#111", gridwidth=1, zeroline=False, tickfont=axis_font,
    minor=dict(tickmode="array", tickvals=minor_y, ticks="inside", ticklen=5, tickcolor="#222", tickwidth=1, showgrid=False),
    title=dict(text="<b>Average TON Out (mg/L)</b>", font=dict(family="Liberation Sans, Arial, sans-serif", size=15, color="black"), standoff=15))

shapes = [
    dict(type="rect", xref="paper", yref="paper", x0=px(345), x1=px(945), y0=py(885), y1=py(425), layer="below",
         line=dict(width=0), fillcolor="rgba(0,0,0,0)",
         label=dict(text="DRAFT", textangle=-48, textposition="middle center",
                    font=dict(family="Liberation Serif, serif", size=220, color="#dcdcdc"))),
    dict(type="rect", xref="paper", yref="paper", x0=px(6), x1=px(1195), y0=py(716), y1=py(2), layer="below",
         line=dict(color="#222", width=1.3), fillcolor="rgba(0,0,0,0)"),
    dict(type="line", xref="x domain", yref="y domain", x0=0, x1=1, y0=1, y1=1, layer="above", line=dict(color="#8a8a8a", width=2)),
    dict(type="line", xref="x domain", yref="y domain", x0=1, x1=1, y0=0, y1=1, layer="above", line=dict(color="#8a8a8a", width=2)),
]

fig.update_layout(
    width=W, height=H, margin=dict(l=L, r=W - R, t=T, b=H - B, autoexpand=False),
    paper_bgcolor="white", plot_bgcolor="rgba(0,0,0,0)", shapes=shapes,
    font=dict(family="Liberation Sans, Arial, sans-serif", color="black"),
    legend=dict(x=px(977), y=py(373), xanchor="left", yanchor="top", bgcolor="white", bordercolor="#444", borderwidth=1,
                font=dict(size=19, color="black"), tracegroupgap=3, indentation=-15, itemwidth=30, traceorder="normal"),
    showlegend=True,
)
fig.write_html("out.html", post_script="document.body.style.margin='0';", config={"displayModeBar": False})
